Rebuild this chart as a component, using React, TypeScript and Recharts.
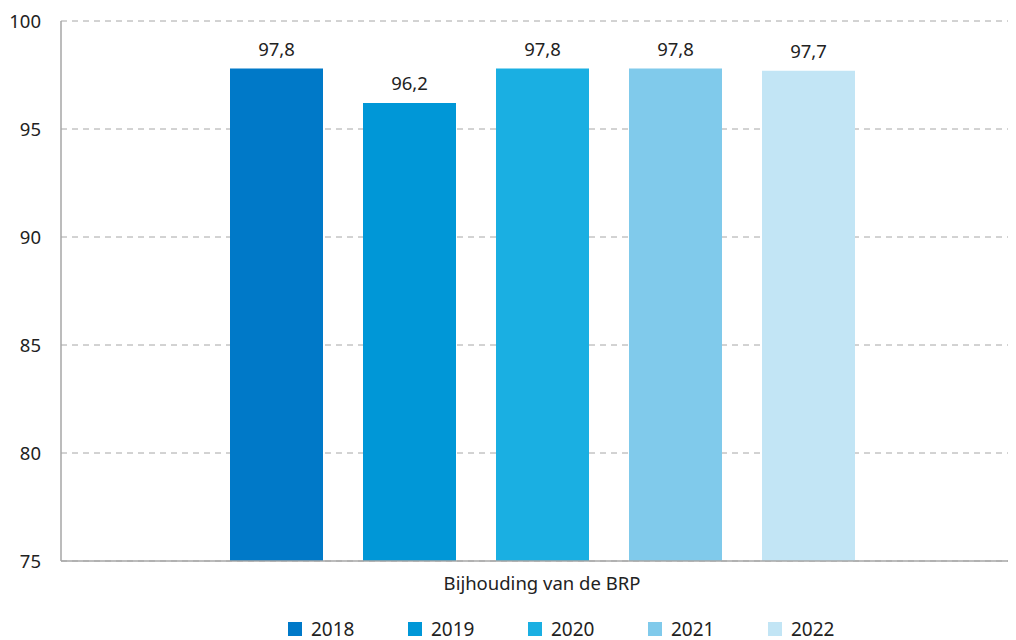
import React from "react";
import { BarChart, Bar, XAxis, YAxis, CartesianGrid, Legend, LabelList } from "recharts";

const categories = ["Bijhouding van de BRP"];
const years = ["2018", "2019", "2020", "2021", "2022"];
const values = [97.8, 96.2, 97.8, 97.8, 97.7];
const colors = ["#0079c8", "#0097d7", "#1aafe2", "#80caeb", "#c2e5f5"];
const yTicks = [75, 80, 85, 90, 95, 100];

const data = categories.map((c) => {
  const row: Record<string, string | number> = { name: c };
  years.forEach((y, i) => {
    row[y] = values[i];
  });
  return row;
});

const FONT = "'Noto Sans', 'Open Sans', sans-serif";

const fmt = (v: any) => String(v).replace(".", ",");

const renderLegend = () => (
  <div style={{ display: "flex", paddingLeft: 280, height: 39, alignItems: "flex-end", fontFamily: FONT }}>
    {years.map((y, i) => (
      <div key={y} style={{ display: "flex", alignItems: "center", width: 120, height: 20, marginBottom: 1 }}>
        <span style={{ display: "inline-block", width: 14, height: 14, background: colors[i], marginRight: 9 }} />
        <span style={{ fontSize: 19, color: "#222", lineHeight: "20px" }}>{y}</span>
      </div>
    ))}
  </div>
);

export default function App() {
  return (
    <div style={{ width: 1008, height: 632 }}>
      <BarChart
        width={1008}
        height={632}
        data={data}
        margin={{ top: 13, right: 0, left: 0, bottom: 0 }}
        barSize={93}
        barGap={40}
      >
        <CartesianGrid vertical={false} stroke="#a6a6a6" strokeDasharray="6 5" />
        <XAxis
          dataKey="name"
          height={40}
          padding={{ left: 7, right: 0 }}
          axisLine={{ stroke: "#a6a6a6", strokeWidth: 1.5 }}
          tickLine={false}
          tick={{ fill: "#222", fontSize: 18.5, fontFamily: FONT }}
          tickMargin={10}
        />
        <YAxis
          width={53}
          domain={[75, 100]}
          ticks={yTicks}
          interval={0}
          axisLine={{ stroke: "#a6a6a6", strokeWidth: 1.5 }}
          tickLine={false}
          tick={{ fill: "#222", fontSize: 18.5, fontFamily: FONT }}
          tickMargin={14}
        />
        <Legend verticalAlign="bottom" height={39} content={renderLegend} wrapperStyle={{ left: 0, width: 1008 }} />
        {years.map((y, i) => (
          <Bar key={y} dataKey={y} fill={colors[i]} isAnimationActive={false}>
            <LabelList
              dataKey={y}
              position="top"
              offset={13}
              formatter={fmt}
              style={{ fill: "#222", fontSize: 18.5, fontFamily: FONT }}
            />
          </Bar>
        ))}
      </BarChart>
    </div>
  );
}
